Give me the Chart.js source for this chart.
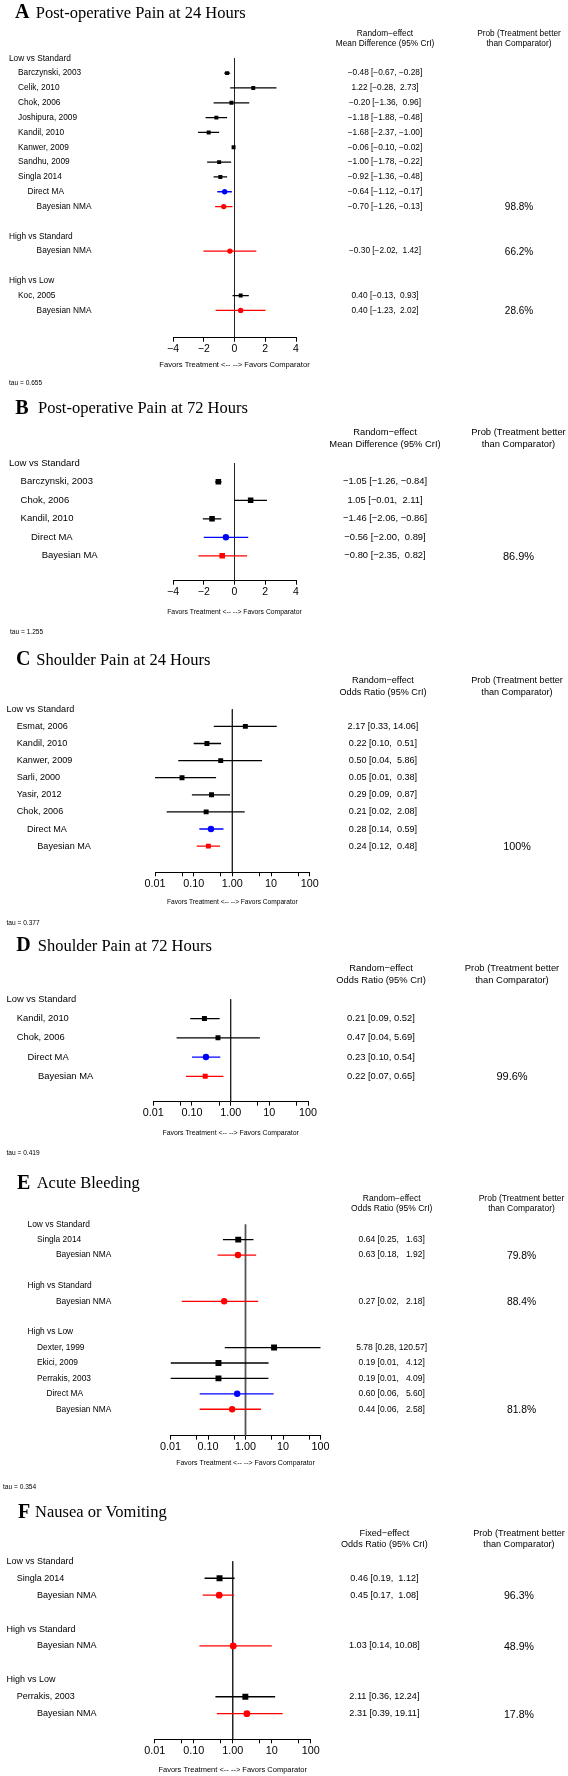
<!DOCTYPE html>
<html>
<head>
<meta charset="utf-8">
<script src="https://cdn.jsdelivr.net/npm/chart.js@4.4.1/dist/chart.umd.min.js"></script>
<style>
html,body{margin:0;padding:0;background:#fff;}
body{width:568px;height:1776px;position:relative;overflow:hidden;}
canvas{position:absolute;left:0;}
</style>
</head>
<body>
<canvas id="cA"></canvas>
<canvas id="cB"></canvas>
<canvas id="cC"></canvas>
<canvas id="cD"></canvas>
<canvas id="cE"></canvas>
<canvas id="cF"></canvas>
<script>
// ---------- DATA ----------
// Panel A: Post-operative Pain at 24 Hours (mean difference)
const A_labels = ['Low vs Standard','Barczynski, 2003','Celik, 2010','Chok, 2006','Joshipura, 2009','Kandil, 2010','Kanwer, 2009','Sandhu, 2009','Singla 2014','Direct MA','Bayesian NMA','','High vs Standard','Bayesian NMA','','High vs Low','Koc, 2005','Bayesian NMA'];
const A_kinds  = ['g','s','s','s','s','s','s','s','s','d','b','','g','b','','g','s','b'];
const A_est  = [null,-0.48,1.22,-0.20,-1.18,-1.68,-0.06,-1.00,-0.92,-0.64,-0.70,null,null,-0.30,null,null,0.40,0.40];
const A_lo   = [null,-0.67,-0.28,-1.36,-1.88,-2.37,-0.10,-1.78,-1.36,-1.12,-1.26,null,null,-2.02,null,null,-0.13,-1.23];
const A_hi   = [null,-0.28,2.73,0.96,-0.48,-1.00,-0.02,-0.22,-0.48,-0.17,-0.13,null,null,1.42,null,null,0.93,2.02];
const A_prob = [null,null,null,null,null,null,null,null,null,null,98.8,null,null,66.2,null,null,null,28.6];

// Panel B: Post-operative Pain at 72 Hours
const B_labels = ['Low vs Standard','Barczynski, 2003','Chok, 2006','Kandil, 2010','Direct MA','Bayesian MA'];
const B_kinds  = ['g','s','s','s','d','b'];
const B_est  = [null,-1.05,1.05,-1.46,-0.56,-0.80];
const B_lo   = [null,-1.26,-0.01,-2.06,-2.00,-2.35];
const B_hi   = [null,-0.84,2.11,-0.86,0.89,0.82];
const B_prob = [null,null,null,null,null,86.9];

// Panel C: Shoulder Pain at 24 Hours (odds ratio)
const C_labels = ['Low vs Standard','Esmat, 2006','Kandil, 2010','Kanwer, 2009','Sarli, 2000','Yasir, 2012','Chok, 2006','Direct MA','Bayesian MA'];
const C_kinds  = ['g','s','s','s','s','s','s','d','b'];
const C_est  = [null,2.17,0.22,0.50,0.05,0.29,0.21,0.28,0.24];
const C_lo   = [null,0.33,0.10,0.04,0.01,0.09,0.02,0.14,0.12];
const C_hi   = [null,14.06,0.51,5.86,0.38,0.87,2.08,0.59,0.48];
const C_prob = [null,null,null,null,null,null,null,null,100];

// Panel D: Shoulder Pain at 72 Hours
const D_labels = ['Low vs Standard','Kandil, 2010','Chok, 2006','Direct MA','Bayesian MA'];
const D_kinds  = ['g','s','s','d','b'];
const D_est  = [null,0.21,0.47,0.23,0.22];
const D_lo   = [null,0.09,0.04,0.10,0.07];
const D_hi   = [null,0.52,5.69,0.54,0.65];
const D_prob = [null,null,null,null,99.6];

// Panel E: Acute Bleeding
const E_labels = ['Low vs Standard','Singla 2014','Bayesian NMA','','High vs Standard','Bayesian NMA','','High vs Low','Dexter, 1999','Ekici, 2009','Perrakis, 2003','Direct MA','Bayesian NMA'];
const E_kinds  = ['g','s','b','','g','b','','g','s','s','s','d','b'];
const E_est  = [null,0.64,0.63,null,null,0.27,null,null,5.78,0.19,0.19,0.60,0.44];
const E_lo   = [null,0.25,0.18,null,null,0.02,null,null,0.28,0.01,0.01,0.06,0.06];
const E_hi   = [null,1.63,1.92,null,null,2.18,null,null,120.57,4.12,4.09,5.60,2.58];
const E_prob = [null,null,79.8,null,null,88.4,null,null,null,null,null,null,81.8];

// Panel F: Nausea or Vomiting
const F_labels = ['Low vs Standard','Singla 2014','Bayesian NMA','','High vs Standard','Bayesian NMA','','High vs Low','Perrakis, 2003','Bayesian NMA'];
const F_kinds  = ['g','s','b','','g','b','','g','s','b'];
const F_est  = [null,0.46,0.45,null,null,1.03,null,null,2.11,2.31];
const F_lo   = [null,0.19,0.17,null,null,0.14,null,null,0.36,0.39];
const F_hi   = [null,1.12,1.08,null,null,10.08,null,null,12.24,19.11];
const F_prob = [null,null,96.3,null,null,48.9,null,null,null,17.8];

// Axis ticks
const LIN_TICKS = [-4,-2,0,2,4];
const LIN_TICK_LABELS = ['\u22124','\u22122','0','2','4'];
const LOG_TICKS = [0.01,0.05,0.1,0.5,1,5,10,50,100];
const LOG_TICK_LABELS = ['0.01','','0.10','','1.00','','10','','100'];

// ---------- LAYOUT / STYLE ----------
const SANS = '"Liberation Sans", Arial, sans-serif';
const SERIF = '"Liberation Serif", "Times New Roman", serif';
const BLACK = '#000000', RED = '#ff0000', BLUE = '#0000ff';

const PANELS = [
 { id:'cA', letter:'A', title:'Post-operative Pain at 24 Hours', hdr:['Random\u2212effect','Mean Difference (95% CrI)'], tau:'tau = 0.655',
   labels:A_labels, kinds:A_kinds, est:A_est, lo:A_lo, hi:A_hi, prob:A_prob,
   scale:'linear', ticks:LIN_TICKS, tickLabels:LIN_TICK_LABELS, min:-4, max:4, ref:0,
   geo:{top:0,h:395,row0:58.3,sp:14.83,axisY:337.7,xL:173,xR:296,titleY:12.3,letterX:15,titleX:35.7,hdrY:[33.7,44],numX:385,probX:519,favY:365,tauY:382.7,tauX:9,refW:1,refColor:'#222',indent:{g:9,s:18,d:27.5,b:36.6}},
   font:{label:8.3,num:8.3,hdr:8.3,prob:10,fav:7.6,tick:10.5},
   marks:{s:['rect',2.8,BLACK],d:['circle',2.7,BLUE],b:['circle',2.7,RED]} },
 { id:'cB', letter:'B', title:'Post-operative Pain at 72 Hours', hdr:['Random\u2212effect','Mean Difference (95% CrI)'], tau:'tau = 1.255',
   labels:B_labels, kinds:B_kinds, est:B_est, lo:B_lo, hi:B_hi, prob:B_prob,
   scale:'linear', ticks:LIN_TICKS, tickLabels:LIN_TICK_LABELS, min:-4, max:4, ref:0,
   geo:{top:395,h:245,row0:463.3,sp:18.5,axisY:580.7,xL:173,xR:296,titleY:407.7,letterX:15.2,titleX:38,hdrY:[432.7,444.3],numX:385,probX:518.5,favY:612.3,tauY:632.3,tauX:10,refW:1,refColor:'#222',indent:{g:9,s:20.6,d:31,b:41.7}},
   font:{label:9.5,num:9.4,hdr:9.4,prob:11,fav:6.8,tick:10.5},
   marks:{s:['rect',3.9,BLACK],d:['circle',3.2,BLUE],b:['rect',3.9,RED]} },
 { id:'cC', letter:'C', title:'Shoulder Pain at 24 Hours', hdr:['Random\u2212effect','Odds Ratio (95% CrI)'], tau:'tau = 0.377',
   labels:C_labels, kinds:C_kinds, est:C_est, lo:C_lo, hi:C_hi, prob:C_prob,
   scale:'logarithmic', ticks:LOG_TICKS, tickLabels:LOG_TICK_LABELS, min:0.01, max:100, ref:1,
   geo:{top:640,h:290,row0:709.3,sp:17.1,axisY:872.3,xL:155,xR:309.7,titleY:659,letterX:16,titleX:36.2,hdrY:[680.7,692],numX:383,probX:517,favY:902.3,tauY:922.7,tauX:6.5,refW:1,refColor:'#222',indent:{g:6.5,s:16.7,d:27,b:37.3}},
   font:{label:9.1,num:9.1,hdr:9.1,prob:10.8,fav:6.6,tick:10.8},
   marks:{s:['rect',3.5,BLACK],d:['circle',3.2,BLUE],b:['rect',3.5,RED]} },
 { id:'cD', letter:'D', title:'Shoulder Pain at 72 Hours', hdr:['Random\u2212effect','Odds Ratio (95% CrI)'], tau:'tau = 0.419',
   labels:D_labels, kinds:D_kinds, est:D_est, lo:D_lo, hi:D_hi, prob:D_prob,
   scale:'logarithmic', ticks:LOG_TICKS, tickLabels:LOG_TICK_LABELS, min:0.01, max:100, ref:1,
   geo:{top:930,h:230,row0:999.3,sp:19.25,axisY:1101.7,xL:153.3,xR:308,titleY:945,letterX:16.3,titleX:37.7,hdrY:[968,980],numX:381,probX:512,favY:1133.3,tauY:1153,tauX:6.5,refW:1,refColor:'#222',indent:{g:6.5,s:16.7,d:27.5,b:38}},
   font:{label:9.4,num:9.4,hdr:9.4,prob:11,fav:6.9,tick:10.8},
   marks:{s:['rect',3.5,BLACK],d:['circle',3.2,BLUE],b:['rect',3.5,RED]} },
 { id:'cE', letter:'E', title:'Acute Bleeding', hdr:['Random\u2212effect','Odds Ratio (95% CrI)'], tau:'tau = 0.354',
   labels:E_labels, kinds:E_kinds, est:E_est, lo:E_lo, hi:E_hi, prob:E_prob,
   scale:'logarithmic', ticks:LOG_TICKS, tickLabels:LOG_TICK_LABELS, min:0.01, max:100, ref:1,
   geo:{top:1160,h:335,row0:1224.2,sp:15.42,axisY:1435.7,xL:170.5,xR:320.5,titleY:1182.5,letterX:17,titleX:36.7,hdrY:[1198.7,1209],numX:391.7,probX:521.5,favY:1462.8,tauY:1487.3,tauX:3,refW:1.8,refColor:'#555',indent:{g:27.5,s:37,d:46.4,b:56}},
   font:{label:8.4,num:8.5,hdr:8.5,prob:10.3,fav:7,tick:10.8},
   marks:{s:['rect',4.2,BLACK],d:['circle',3.2,BLUE],b:['circle',3.2,RED]} },
 { id:'cF', letter:'F', title:'Nausea or Vomiting', hdr:['Fixed\u2212effect','Odds Ratio (95% CrI)'], tau:null,
   labels:F_labels, kinds:F_kinds, est:F_est, lo:F_lo, hi:F_hi, prob:F_prob,
   scale:'logarithmic', ticks:LOG_TICKS, tickLabels:LOG_TICK_LABELS, min:0.01, max:100, ref:1,
   geo:{top:1495,h:281,row0:1561.3,sp:16.93,axisY:1739.3,xL:154.7,xR:310.7,titleY:1511.7,letterX:18,titleX:35,hdrY:[1533.3,1544.7],numX:384.4,probX:519,favY:1769.7,tauY:null,tauX:0,refW:1,refColor:'#222',indent:{g:6.5,s:16.7,d:27,b:37}},
   font:{label:9.0,num:9.1,hdr:9.1,prob:10.6,fav:7.5,tick:10.8},
   marks:{s:['rect',4.2,BLACK],d:['circle',3.3,BLUE],b:['circle',3.4,RED]} }
];

function fmt(v){ return (v < 0 ? '\u2212' : '') + Math.abs(v).toFixed(2); }
function probText(p){ return p === 100 ? '100%' : p.toFixed(1) + '%'; }

function textPlugin(P){
  return {
    id:'forestText'+P.letter,
    afterDraw(chart){
      const ctx = chart.ctx, g = P.geo, f = P.font, yS = chart.scales.y;
      const off = g.top;
      let hiW = 0;
      P.hi.forEach(v => { if (v != null) hiW = Math.max(hiW, fmt(v).length); });
      ctx.save();
      ctx.fillStyle = '#000';
      // title
      ctx.textAlign = 'left'; ctx.textBaseline = 'alphabetic';
      ctx.font = 'bold 20px ' + SERIF;
      ctx.fillText(P.letter, g.letterX, g.titleY - off + 6);
      ctx.font = '16.5px ' + SERIF;
      ctx.fillText(P.title, g.titleX, g.titleY - off + 5.5);
      // headers
      ctx.textAlign = 'center'; ctx.textBaseline = 'middle';
      ctx.font = f.hdr + 'px ' + SANS;
      ctx.fillText(P.hdr[0], g.numX, g.hdrY[0] - off);
      ctx.fillText(P.hdr[1], g.numX, g.hdrY[1] - off);
      ctx.fillText('Prob (Treatment better', g.probX, g.hdrY[0] - off);
      ctx.fillText('than Comparator)', g.probX, g.hdrY[1] - off);
      // rows
      P.labels.forEach((lab, k) => {
        const y = yS.getPixelForValue(k);
        if (lab) {
          ctx.textAlign = 'left';
          ctx.font = f.label + 'px ' + SANS;
          ctx.fillText(lab, g.indent[P.kinds[k]], y);
        }
        if (P.est[k] != null) {
          ctx.textAlign = 'center';
          ctx.font = f.num + 'px ' + SANS;
          const txt = fmt(P.est[k]) + ' [' + fmt(P.lo[k]) + ', ' + fmt(P.hi[k]).padStart(hiW, ' ') + ']';
          ctx.fillText(txt, g.numX, y);
        }
        if (P.prob[k] != null) {
          ctx.textAlign = 'center';
          ctx.font = f.prob + 'px ' + SANS;
          ctx.fillText(probText(P.prob[k]), g.probX, y + 1);
        }
      });
      // favors
      ctx.textAlign = 'center';
      ctx.font = f.fav + 'px ' + SANS;
      ctx.fillText('Favors Treatment <-- --> Favors Comparator', (chart.chartArea.left + chart.chartArea.right) / 2, g.favY - off);
      // tau
      if (P.tau) {
        ctx.textAlign = 'left';
        ctx.font = '6.6px ' + SANS;
        ctx.fillText(P.tau, g.tauX, g.tauY - off);
      }
      ctx.restore();
    }
  };
}

function buildChart(P){
  const g = P.geo, f = P.font;
  const canvas = document.getElementById(P.id);
  canvas.width = 568; canvas.height = g.h;
  canvas.style.top = g.top + 'px';
  canvas.style.width = '568px'; canvas.style.height = g.h + 'px';
  const XH = 20;
  const ymax = (g.axisY - g.row0) / g.sp;
  const datasets = [];
  datasets.push({ type:'scatter', data:[{x:P.ref,y:0},{x:P.ref,y:ymax}], showLine:true,
    borderColor:g.refColor, borderWidth:g.refW, pointRadius:0, order:10 });
  P.est.forEach((e, k) => {
    if (e == null) return;
    const m = P.marks[P.kinds[k]];
    datasets.push({ type:'scatter', data:[{x:P.lo[k],y:k},{x:e,y:k},{x:P.hi[k],y:k}], showLine:true,
      borderColor:m[2], backgroundColor:m[2], borderWidth:1.3,
      pointRadius:[0,m[1],0], pointStyle:m[0], pointBorderWidth:0, pointBackgroundColor:m[2], order:1 });
  });
  new Chart(canvas, {
    type:'scatter',
    data:{ datasets },
    options:{
      responsive:false, animation:false, devicePixelRatio:1, events:[],
      layout:{ autoPadding:false, padding:{ left:g.xL, right:568 - g.xR, top:(g.row0 - g.sp) - g.top, bottom:g.h - (g.axisY - g.top) - XH } },
      plugins:{ legend:{display:false}, tooltip:{enabled:false}, title:{display:false} },
      scales:{
        x:{ type:P.scale, min:P.min, max:P.max, position:'bottom',
            afterBuildTicks:(s) => { s.ticks = P.ticks.map(v => ({value:v})); },
            afterFit:(s) => { s.height = XH; },
            grid:{ display:true, drawOnChartArea:false, drawTicks:true, tickLength:4, color:'#000', lineWidth:1 },
            border:{ display:true, color:'#000', width:1 },
            ticks:{ autoSkip:false, maxRotation:0, minRotation:0, padding:1, color:'#000',
                    font:{ family:SANS, size:f.tick },
                    callback:(v, i) => P.tickLabels[i] } },
        y:{ type:'linear', display:false, reverse:true, min:-1, max:ymax }
      }
    },
    plugins:[ textPlugin(P) ]
  });
}

PANELS.forEach(buildChart);
</script>
</body>
</html>
